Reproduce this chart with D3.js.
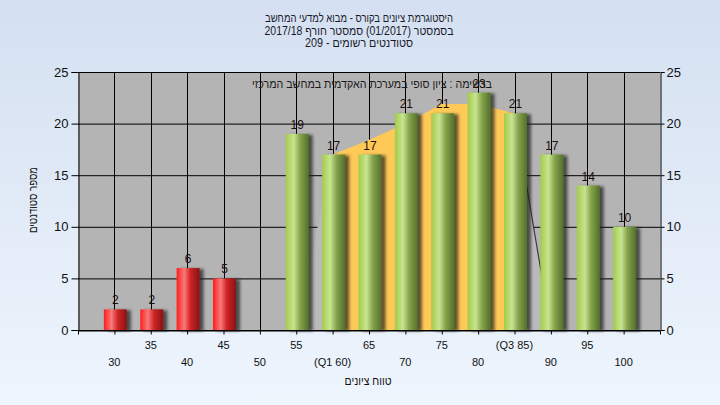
<!DOCTYPE html>
<html><head><meta charset="utf-8">
<script src="https://cdn.jsdelivr.net/npm/d3@7"></script>
<style>html,body{margin:0;padding:0;overflow:hidden}svg{display:block}</style>
</head><body>
<script>
// ---- data ----
const grades = [30,35,40,45,50,55,60,65,70,75,80,85,90,95,100];
const gradeLabels = ["30","35","40","45","50","55","(Q1 60)","65","70","75","80","(Q3 85)","90","95","100"];
const counts = [2,2,6,5,0,19,17,17,21,21,23,21,17,14,10];
const passGrade = 55;
const yTicks = [0,5,10,15,20,25];
// distribution area (grey) and quartile range (orange)
const areaGrades = [55,60,65,70,75,80,85,90];
const areaValues = [0,17,18.4,20,21.9,21.9,21,0];
const q1 = 60, q3 = 85;
const titleLines = ["היסטוגרמת ציונים בקורס - מבוא למדעי המחשב","בסמסטר  (01/2017)  סמסטר חורף 2017/18","סטודנטים רשומים - 209"];
const legendText = "ברשימה : ציון סופי במערכת האקדמית במחשב המרכזי";
const yTitle = "מספר סטודנטים";
const xTitle = "טווח ציונים";

const W = 720, H = 405;
const L = 78, R = 660, T = 72, B = 330;
const FONT = "Liberation Sans, Arial, sans-serif";
const svg = d3.select("body").append("svg").attr("width", W).attr("height", H);
const defs = svg.append("defs");
const bg = defs.append("linearGradient").attr("id","bg").attr("x1",0).attr("y1",0).attr("x2",0).attr("y2",1);
bg.append("stop").attr("offset",0).attr("stop-color","#d4e0f1");
bg.append("stop").attr("offset",1).attr("stop-color","#eef5fd");
function barGrad(id, stops){
  const g = defs.append("linearGradient").attr("id",id).attr("x1",0).attr("y1",0).attr("x2",1).attr("y2",0);
  stops.forEach(s=>g.append("stop").attr("offset",s[0]).attr("stop-color",s[1]));
}
barGrad("red",[[0,"#ff1c1c"],[0.33,"#f87a7a"],[0.6,"#d02424"],[1,"#861414"]]);
barGrad("green",[[0,"#a2cc48"],[0.35,"#c8e492"],[0.62,"#86a44c"],[1,"#52702a"]]);
const f = defs.append("filter").attr("id","sh").attr("x","-30%").attr("y","-10%").attr("width","170%").attr("height","120%");
f.append("feDropShadow").attr("dx",4).attr("dy",1).attr("stdDeviation",1.6).attr("flood-color","#1a1a1a").attr("flood-opacity",0.7);

svg.append("rect").attr("width",W).attr("height",H).attr("fill","url(#bg)");

const x = d3.scaleLinear().domain([25,105]).range([L,R]);
const y = d3.scaleLinear().domain([0,25]).range([B,T]);

// plot area
svg.append("rect").attr("x",L).attr("y",T).attr("width",R-L).attr("height",B-T).attr("fill","#b4b4b4");
// grid
svg.append("g").selectAll("line").data(yTicks).join("line")
  .attr("x1",L).attr("x2",R).attr("y1",d=>y(d)+0.5).attr("y2",d=>y(d)+0.5).attr("stroke","#000");
svg.append("g").selectAll("line").data(grades).join("line")
  .attr("x1",d=>Math.round(x(d))+0.5).attr("x2",d=>Math.round(x(d))+0.5).attr("y1",T).attr("y2",B).attr("stroke","#000");

// areas
const pts = areaGrades.map((g,i)=>[g,areaValues[i]]);
const area = d3.area().x(d=>x(d[0])).y0(y(0)).y1(d=>y(d[1]));
svg.append("path").attr("d",area(pts)).attr("fill","#bababa");
svg.append("path").attr("d",area(pts.filter(d=>d[0]>=q1&&d[0]<=q3))).attr("fill","#ffc957");
svg.append("path").attr("d",d3.line().x(d=>x(d[0])).y(d=>y(d[1]))(pts.filter(d=>d[0]>=q3)))
  .attr("fill","none").attr("stroke","#3c3c3c").attr("stroke-width",1.2);

// legend text
svg.append("text").attr("x",492).attr("y",88).attr("direction","rtl").attr("text-anchor","start")
  .attr("font-family",FONT).attr("font-size",12).attr("textLength",240).attr("lengthAdjust","spacingAndGlyphs")
  .attr("fill","#1a1a1a").text(legendText);

// bars
const bw = 23;
const bars = grades.map((g,i)=>({g,v:counts[i]})).filter(d=>d.v>0);
svg.append("g").selectAll("rect").data(bars).join("rect")
  .attr("x",d=>x(d.g)-bw/2+1).attr("width",bw).attr("y",d=>y(d.v)).attr("height",d=>y(0)-y(d.v))
  .attr("fill",d=>d.g<passGrade?"url(#red)":"url(#green)").attr("filter","url(#sh)");
svg.append("g").selectAll("text").data(bars).join("text")
  .attr("x",d=>x(d.g)+1).attr("y",d=>y(d.v)-5).attr("text-anchor","middle")
  .attr("font-family",FONT).attr("font-size",12).attr("fill","#1a1010").text(d=>d.v);

// axes
const axL = d3.axisLeft(y).tickValues(yTicks).tickSize(7).tickPadding(3);
const axR = d3.axisRight(y).tickValues(yTicks).tickSize(4).tickPadding(2);
function styleAxis(g){
  g.select(".domain").attr("stroke","#000");
  g.selectAll(".tick line").attr("stroke","#000");
  g.selectAll("text").attr("font-family",FONT).attr("font-size",13).attr("fill","#111");
}
svg.append("g").attr("transform",`translate(${L+0.5},0)`).call(axL).call(styleAxis);
svg.append("g").attr("transform",`translate(${R+0.5},0)`).call(axR).call(styleAxis);
const axB = d3.axisBottom(x).tickValues(grades).tickSize(4).tickFormat("");
svg.append("g").attr("transform",`translate(0,${B+0.5})`).call(axB).call(g=>{g.select(".domain").attr("stroke","#000");g.selectAll(".tick line").attr("stroke","#000");});
svg.append("line").attr("x1",L).attr("x2",R).attr("y1",T+0.5).attr("y2",T+0.5).attr("stroke","#000");

// x labels (staggered)
svg.append("g").selectAll("text").data(grades).join("text")
  .attr("x",d=>x(d)).attr("y",(d,i)=>i%2===1?349:366).attr("text-anchor","middle")
  .attr("font-family",FONT).attr("font-size",11).attr("fill","#111")
  .text((d,i)=>gradeLabels[i]);

// titles
const titleWidths = [188,189,108];
svg.append("g").selectAll("text").data(titleLines).join("text")
  .attr("x",(d,i)=>359+titleWidths[i]/2).attr("y",(d,i)=>22+i*12.5).attr("text-anchor","start").attr("direction","rtl")
  .attr("textLength",(d,i)=>titleWidths[i]).attr("lengthAdjust","spacingAndGlyphs")
  .attr("font-family",FONT).attr("font-size",12).attr("fill","#1a1a2a").text(d=>d);
svg.append("text").attr("x",368).attr("y",385).attr("text-anchor","middle").attr("direction","rtl")
  .attr("font-family",FONT).attr("font-size",12).attr("textLength",47).attr("lengthAdjust","spacingAndGlyphs")
  .attr("fill","#111").text(xTitle);
svg.append("text").attr("transform","translate(37,200) rotate(-90)").attr("text-anchor","middle").attr("direction","rtl")
  .attr("font-family",FONT).attr("font-size",12).attr("textLength",66).attr("lengthAdjust","spacingAndGlyphs")
  .attr("fill","#111").text(yTitle);
</script>
</body></html>
